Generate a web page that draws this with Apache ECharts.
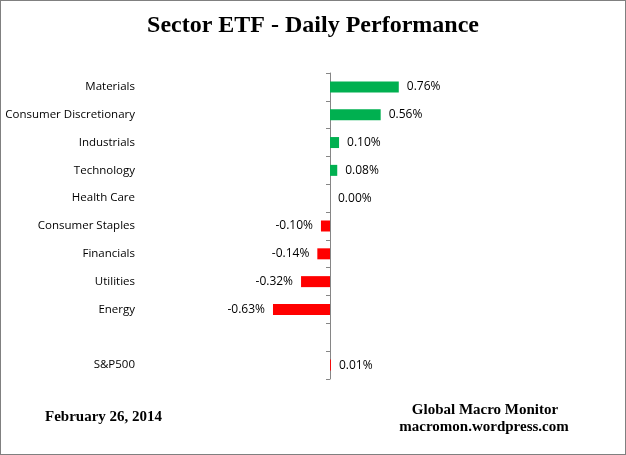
<!DOCTYPE html>
<html><head><meta charset="utf-8">
<script src="https://cdn.jsdelivr.net/npm/echarts@6/dist/echarts.min.js"></script>
<style>html,body{margin:0;padding:0;background:#fff}#c{width:626px;height:455px;box-sizing:border-box;border:1px solid #808080}</style>
</head><body><div id="c"></div>
<script>
var categories = ['Materials','Consumer Discretionary','Industrials','Technology','Health Care','Consumer Staples','Financials','Utilities','Energy','','S&P500'];
var values = [0.76,0.56,0.10,0.08,0.00,-0.10,-0.14,-0.32,-0.63,null,0.01];
var barColors = ['#00B050','#00B050','#00B050','#00B050','#00B050','#FF0000','#FF0000','#FF0000','#FF0000','#FF0000','#FF0000'];
var titleText = 'Sector ETF - Daily Performance';
var dateText = 'February 26, 2014';
var sourceLines = ['Global Macro Monitor','macromon.wordpress.com'];

var chart = echarts.init(document.getElementById('c'), null, {renderer:'canvas'});
var labelFont = '"Open Sans", "Noto Sans", sans-serif';
var serifBold = 'bold 15px "Liberation Serif", "Times New Roman", serif';
chart.setOption({
  animation:false,
  title:{text:titleText,left:'center',top:8,textStyle:{fontFamily:'"Liberation Serif", "Times New Roman", serif',fontWeight:'bold',fontSize:24,color:'#000'}},
  graphic:[
    {type:'text',x:44,y:416,style:{text:dateText,font:serifBold,fill:'#000',textAlign:'left',textVerticalAlign:'middle'}},
    {type:'text',x:484,y:409,style:{text:sourceLines[0],font:serifBold,fill:'#000',textAlign:'center',textVerticalAlign:'middle'}},
    {type:'text',x:483,y:426,style:{text:sourceLines[1],font:serifBold,fill:'#000',textAlign:'center',textVerticalAlign:'middle'}}
  ],
  grid:{left:238.5,right:204.5,top:72,bottom:75,outerBoundsMode:'none',containLabel:false},
  xAxis:{type:'value',min:-1,max:1,show:false,splitLine:{show:false}},
  yAxis:{type:'category',data:categories,inverse:true,
    axisLine:{onZero:true,lineStyle:{color:'#868686',width:1}},
    axisTick:{show:true,length:4,inside:false,lineStyle:{color:'#868686'}},
    axisLabel:{margin:104.5,fontFamily:labelFont,fontSize:11.5,color:'#000',padding:[2,0,0,0]}},
  series:[{type:'bar',barWidth:11,
    data:values.map(function(v,i){return {value:v,itemStyle:{color:barColors[i]},label:{position:(v!=null&&v<0)?'left':'right'}};}),
    label:{show:true,distance:8,fontFamily:labelFont,fontSize:12,color:'#000',
      formatter:function(p){return p.value==null?'':p.value.toFixed(2)+'%';}}
  }]
});
</script></body></html>
